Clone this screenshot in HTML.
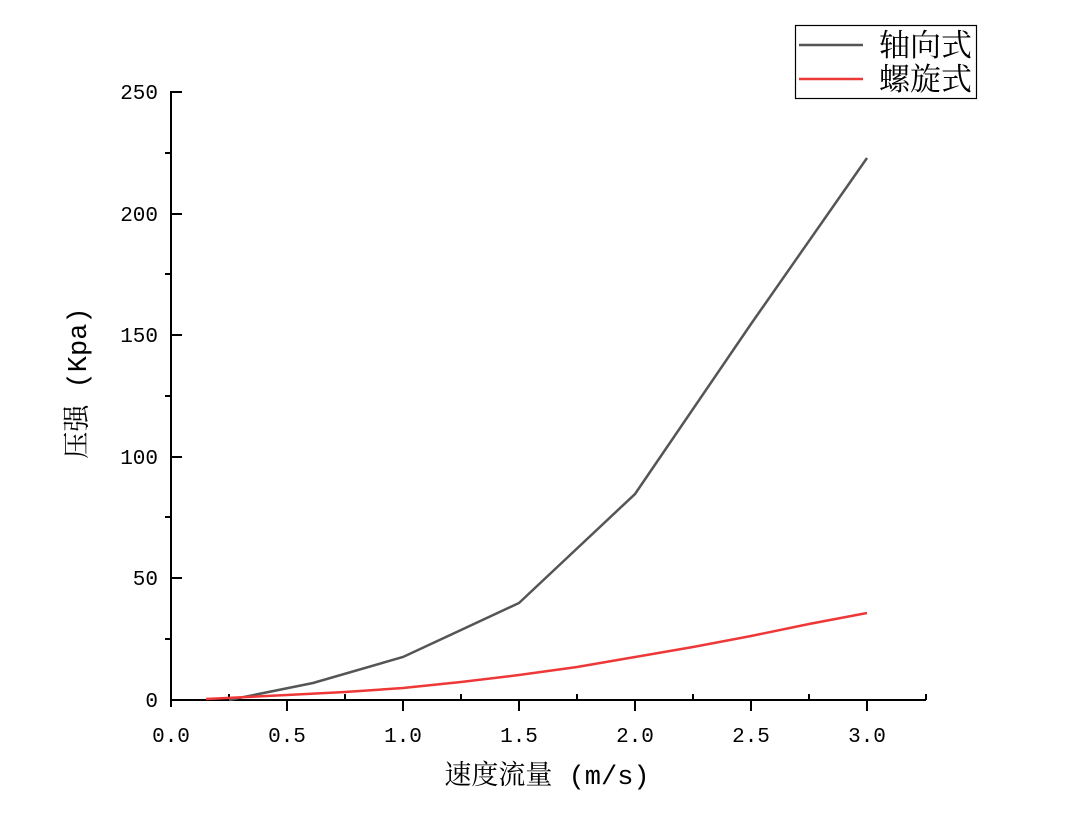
<!DOCTYPE html>
<html><head><meta charset="utf-8"><style>
html,body{margin:0;padding:0;background:#fff;}
svg{display:block;}
text{font-family:"Liberation Mono","Noto Serif CJK SC",monospace;fill:#000;}
.c{font-family:"Liberation Serif","Noto Serif CJK SC",serif;}
</style></head><body>
<svg width="1068" height="814" viewBox="0 0 1068 814" xmlns="http://www.w3.org/2000/svg">
<g stroke="#000" stroke-width="2" fill="none">
<line x1="171" y1="91" x2="171" y2="707"/>
<line x1="170" y1="700" x2="926" y2="700"/>
<line x1="926" y1="700" x2="926" y2="694"/>
<line x1="171" y1="92" x2="182" y2="92"/>
<line x1="171" y1="214" x2="182" y2="214"/>
<line x1="171" y1="335" x2="182" y2="335"/>
<line x1="171" y1="457" x2="182" y2="457"/>
<line x1="171" y1="578" x2="182" y2="578"/>
<line x1="165" y1="153" x2="171" y2="153"/>
<line x1="165" y1="274" x2="171" y2="274"/>
<line x1="165" y1="396" x2="171" y2="396"/>
<line x1="165" y1="517" x2="171" y2="517"/>
<line x1="165" y1="639" x2="171" y2="639"/>
<line x1="287" y1="700" x2="287" y2="711"/>
<line x1="403" y1="700" x2="403" y2="711"/>
<line x1="519" y1="700" x2="519" y2="711"/>
<line x1="635" y1="700" x2="635" y2="711"/>
<line x1="751" y1="700" x2="751" y2="711"/>
<line x1="867" y1="700" x2="867" y2="711"/>
<line x1="229" y1="694" x2="229" y2="700"/>
<line x1="345" y1="694" x2="345" y2="700"/>
<line x1="461" y1="694" x2="461" y2="700"/>
<line x1="577" y1="694" x2="577" y2="700"/>
<line x1="693" y1="694" x2="693" y2="700"/>
<line x1="809" y1="694" x2="809" y2="700"/>
</g>
<g font-size="21" text-anchor="end">
<text x="158" y="99">250</text>
<text x="158" y="221">200</text>
<text x="158" y="342">150</text>
<text x="158" y="464">100</text>
<text x="158" y="585">50</text>
<text x="158" y="707">0</text>
</g>
<g font-size="21" text-anchor="middle">
<text x="171" y="742">0.0</text>
<text x="287" y="742">0.5</text>
<text x="403" y="742">1.0</text>
<text x="519" y="742">1.5</text>
<text x="635" y="742">2.0</text>
<text x="751" y="742">2.5</text>
<text x="867" y="742">3.0</text>
</g>
<text x="547" y="784" font-size="27" text-anchor="middle">速度流量 (m/s)</text>
<text transform="translate(86,383) rotate(-90)" font-size="27" text-anchor="middle">压强 (Kpa)</text>
<polyline fill="none" stroke="#555" stroke-width="2.5" points="229,700 313,683 403,657 519,603 635,494 751,324 867,158"/>
<polyline fill="none" stroke="#ee3838" stroke-width="2.5" points="206,699 287,695 345,692 403,688 461,682 519,675 577,667 635,657 693,647 751,636 809,624 867,613"/>
<rect x="795.5" y="25.5" width="181" height="73" fill="#fff" stroke="#000" stroke-width="1.2"/>
<line x1="799" y1="45" x2="863" y2="45" stroke="#555" stroke-width="2.5"/>
<line x1="799" y1="79" x2="863" y2="79" stroke="#ee3838" stroke-width="2.5"/>
<text class="c" x="879" y="56" font-size="31">轴向式</text>
<text class="c" x="879" y="90" font-size="31">螺旋式</text>
</svg>
</body></html>
